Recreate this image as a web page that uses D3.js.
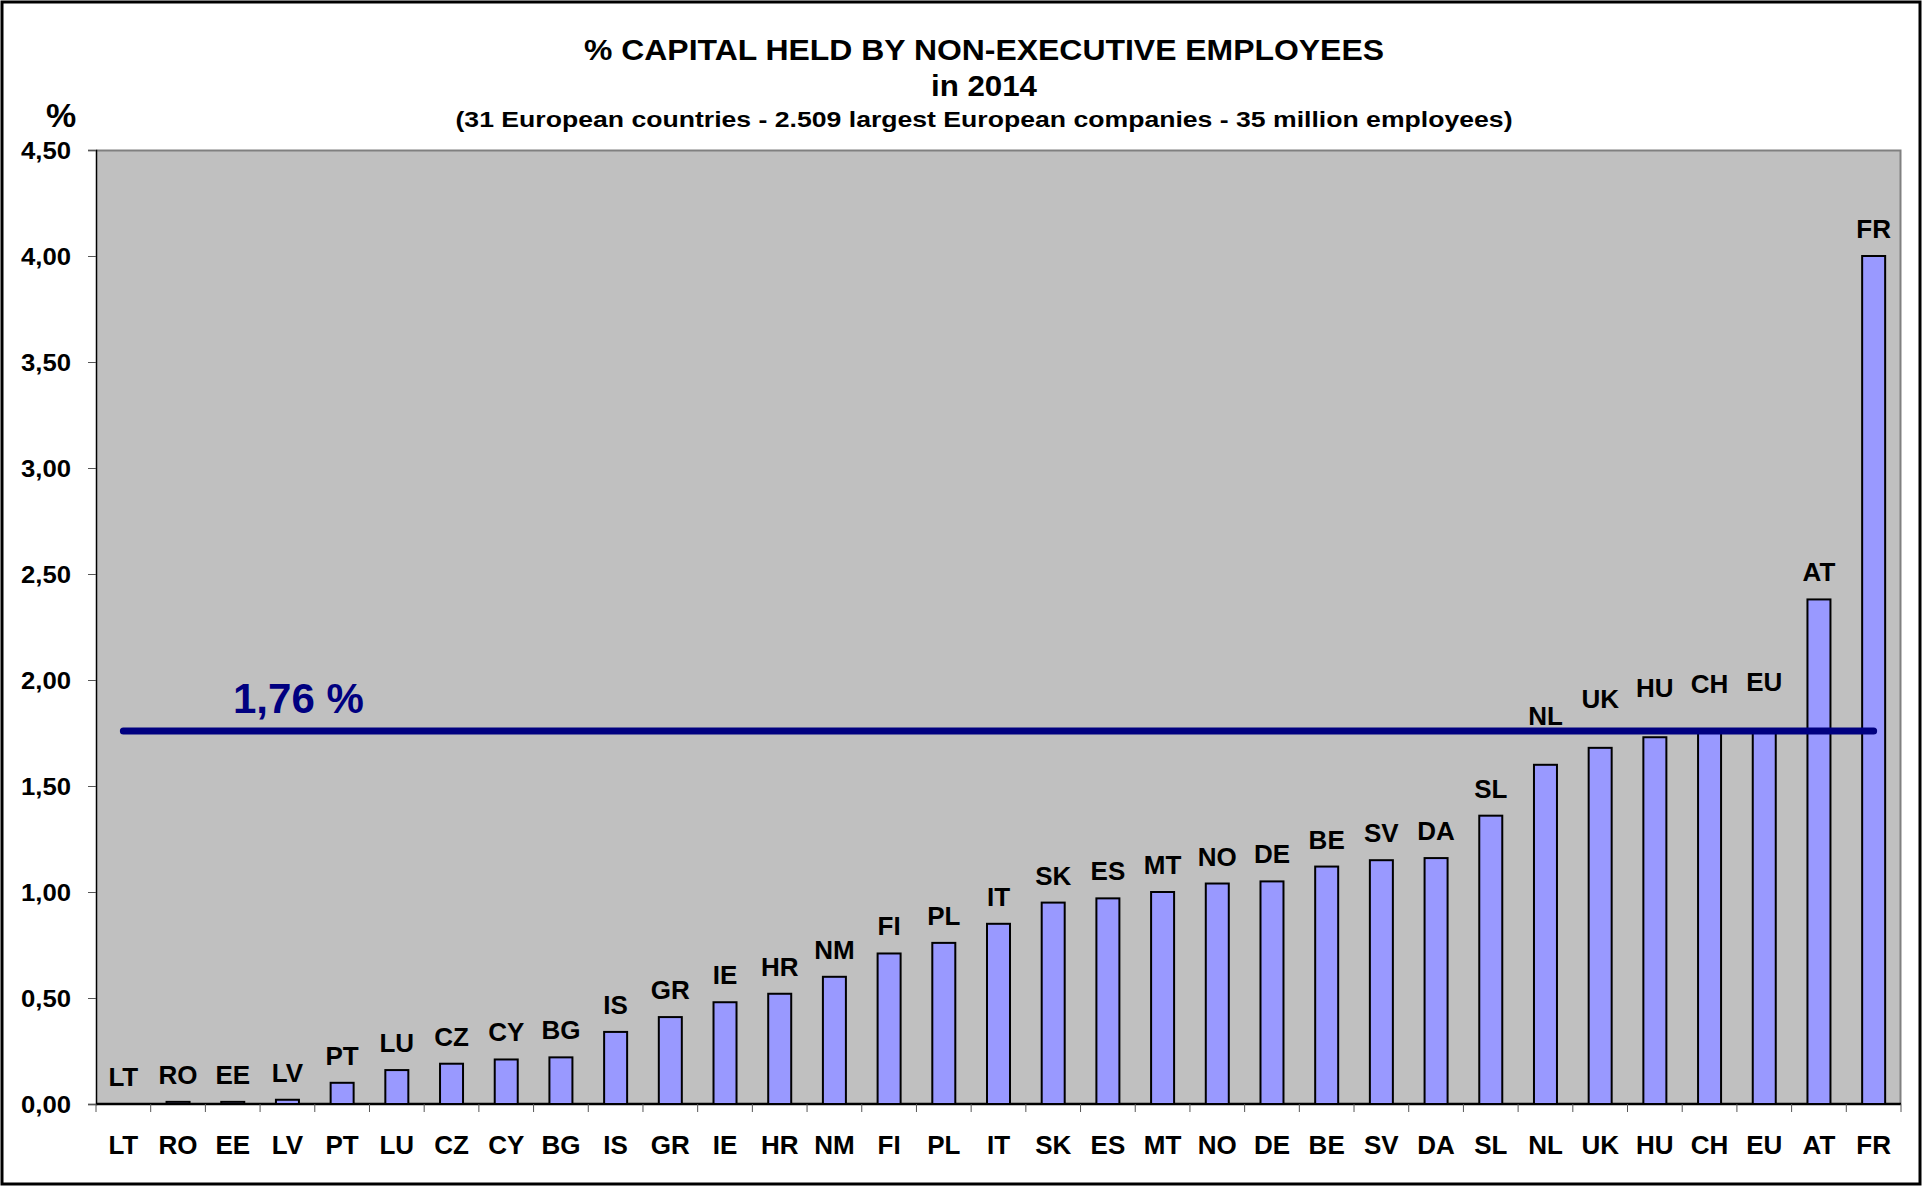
<!DOCTYPE html>
<html>
<head>
  <title>% capital held by non-executive employees 2014</title>
  <meta charset="utf-8">
  <script src="https://d3js.org/d3.v7.min.js"></script>
  <style>
    body { margin: 0; background: #fff; }
    text { font-family: "Liberation Sans", Arial, sans-serif; font-weight: bold; }
  </style>
</head>
<body>
<script>

// data
var countries = ["LT","RO","EE","LV","PT","LU","CZ","CY","BG","IS","GR","IE","HR","NM","FI","PL",
                 "IT","SK","ES","MT","NO","DE","BE","SV","DA","SL","NL","UK","HU","CH","EU","AT","FR"];
var shares = [0.00, 0.01, 0.01, 0.02, 0.10, 0.16, 0.19, 0.21, 0.22, 0.34, 0.41, 0.48, 0.52, 0.60, 0.71, 0.76,
              0.85, 0.95, 0.97, 1.00, 1.04, 1.05, 1.12, 1.15, 1.16, 1.36, 1.60, 1.68, 1.73, 1.75, 1.76, 2.38, 4.00];
var average = 1.76;
var yTicks = [0, 0.5, 1, 1.5, 2, 2.5, 3, 3.5, 4, 4.5];

var title = "% CAPITAL HELD BY NON-EXECUTIVE EMPLOYEES";
var title2 = "in 2014";
var subtitle = "(31 European countries - 2.509 largest European companies - 35 million employees)";

var data = countries.map(function(c, i) { return {id: c, value: shares[i]}; });

var svgWidth = 1923, svgHeight = 1187;
var margin = {left: 96, top: 150, right: 22, bottom: 83};
var graphWidth = svgWidth - margin.left - margin.right;
var graphHeight = svgHeight - margin.top - margin.bottom;

var svg = d3.select('body').append('svg')
    .attr('width', svgWidth)
    .attr('height', svgHeight);

// outer frame
svg.append('rect')
    .attr('x', 2).attr('y', 2)
    .attr('width', svgWidth - 5).attr('height', svgHeight - 5)
    .attr('fill', 'none').attr('stroke', '#000').attr('stroke-width', 3);

var comma = function(v) { return d3.format('.2f')(v).replace('.', ','); };

var x = d3.scaleBand().domain(countries).range([0, graphWidth]).padding(0);
var y = d3.scaleLinear().domain([0, 4.5]).range([graphHeight, 0]);

var graph = svg.append('g')
    .attr('transform', 'translate(' + margin.left + ',' + margin.top + ')');

// plot area
graph.append('rect')
    .attr('width', graphWidth).attr('height', graphHeight)
    .attr('fill', '#c0c0c0');
graph.append('path')
    .attr('d', 'M0,0.5H' + (graphWidth - 0.5) + 'V' + graphHeight)
    .attr('fill', 'none').attr('stroke', '#808080').attr('stroke-width', 2);

// titles (the original text is drawn a little wider than the font, so stretch it)
var cx = 984;
svg.append('text').attr('x', cx).attr('y', 60).attr('text-anchor', 'middle')
    .style('font-size', '29px')
    .attr('textLength', 800).attr('lengthAdjust', 'spacingAndGlyphs')
    .text(title);
svg.append('text').attr('x', cx).attr('y', 96).attr('text-anchor', 'middle')
    .style('font-size', '29px')
    .attr('textLength', 106).attr('lengthAdjust', 'spacingAndGlyphs')
    .text(title2);
svg.append('text').attr('x', cx).attr('y', 127).attr('text-anchor', 'middle')
    .style('font-size', '22px')
    .attr('textLength', 1057).attr('lengthAdjust', 'spacingAndGlyphs')
    .text(subtitle);
svg.append('text').attr('x', 61).attr('y', 127).attr('text-anchor', 'middle')
    .style('font-size', '34px').text('%');

// y axis
var yAxis = graph.append('g')
    .call(d3.axisLeft(y).tickValues(yTicks).tickFormat(comma).tickSize(8).tickPadding(17));
yAxis.select('.domain').attr('stroke', '#000').attr('stroke-width', 1.5);
yAxis.selectAll('.tick line').attr('stroke', '#555');
yAxis.selectAll('.tick text')
    .attr('fill', '#000')
    .attr('dy', '0.36em')
    .style('font-size', '23px')
    .attr('textLength', 50).attr('lengthAdjust', 'spacingAndGlyphs')
    .style('font-family', '"Liberation Sans", Arial, sans-serif');

// x axis: ticks at category boundaries
var xAxis = graph.append('g')
    .attr('transform', 'translate(0,' + graphHeight + ')');
xAxis.append('line')
    .attr('x1', 0).attr('x2', graphWidth)
    .attr('stroke', '#000').attr('stroke-width', 2.5);
xAxis.selectAll('.xtick')
    .data(countries.concat(['end']))
    .enter().append('line')
    .attr('class', 'xtick')
    .attr('x1', function(d, i) { return i * x.bandwidth(); })
    .attr('x2', function(d, i) { return i * x.bandwidth(); })
    .attr('y1', 0).attr('y2', 8)
    .attr('stroke', '#555');
xAxis.selectAll('.xlabel')
    .data(countries)
    .enter().append('text')
    .attr('class', 'xlabel')
    .attr('x', function(d) { return x(d) + x.bandwidth() / 2; })
    .attr('y', 50)
    .attr('text-anchor', 'middle')
    .style('font-size', '26px')
    .text(function(d) { return d; });

// bars
var barW = 23;
graph.selectAll('.bar')
    .data(data.filter(function(d) { return d.value > 0; }))
    .enter().append('rect')
    .attr('class', 'bar')
    .attr('x', function(d) { return x(d.id) + x.bandwidth() / 2 - barW / 2; })
    .attr('y', function(d) { return y(d.value); })
    .attr('width', barW)
    .attr('height', function(d) { return graphHeight - y(d.value); })
    .attr('fill', '#9999ff')
    .attr('stroke', '#000')
    .attr('stroke-width', 2);

// labels above bars, lifted clear of the average line where they would touch it
graph.selectAll('.blabel')
    .data(data)
    .enter().append('text')
    .attr('class', 'blabel')
    .attr('x', function(d) { return x(d.id) + x.bandwidth() / 2; })
    .attr('y', function(d) {
      var near = d.value > 1.45 && d.value < 1.9;
      return y(d.value) - (near ? 40 : 18);
    })
    .attr('text-anchor', 'middle')
    .style('font-size', '26px')
    .text(function(d) { return d.id; });

// average line
var first = countries[0], last = countries[countries.length - 1];
graph.append('line')
    .attr('x1', x(first) + x.bandwidth() / 2)
    .attr('x2', x(last) + x.bandwidth() / 2)
    .attr('y1', y(average)).attr('y2', y(average))
    .attr('stroke', '#000080').attr('stroke-width', 7)
    .attr('stroke-linecap', 'round');
graph.append('text')
    .attr('x', 137).attr('y', y(average) - 18)
    .attr('fill', '#000080')
    .style('font-size', '42px')
    .text(comma(average) + ' %');

</script>
</body>
</html>
